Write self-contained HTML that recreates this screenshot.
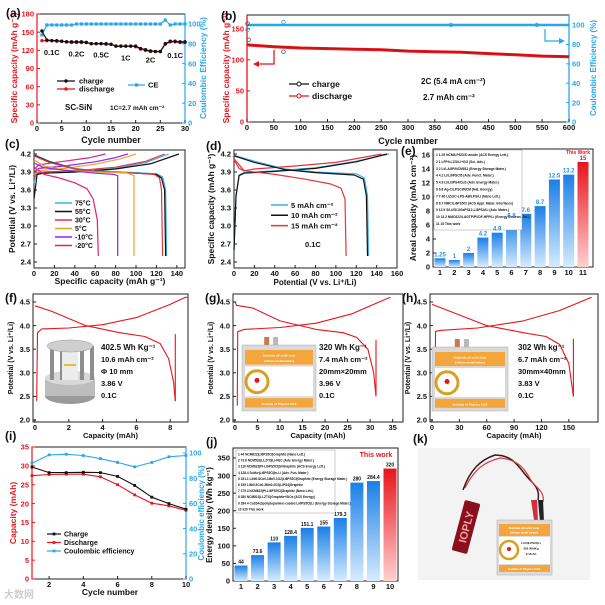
<!DOCTYPE html>
<html><head><meta charset="utf-8">
<style>
html,body{margin:0;padding:0;background:#fff;}
svg{display:block;font-family:"Liberation Sans","Noto Sans CJK SC",sans-serif;}
text{font-weight:bold;}
</style></head>
<body>
<svg id="fig" width="605" height="605" viewBox="0 0 605 605" xmlns="http://www.w3.org/2000/svg">
<defs>
<linearGradient id="gBlue" x1="0" y1="1" x2="0" y2="0"><stop offset="0" stop-color="#d6ecff"/><stop offset="1" stop-color="#1b7fe6"/></linearGradient>
<linearGradient id="gRed" x1="0" y1="1" x2="0" y2="0"><stop offset="0" stop-color="#ffd0d0"/><stop offset="1" stop-color="#e8141c"/></linearGradient>
</defs>
</svg>
<script>
// ---- panel (a) data
const aCycles=[1,2,3,4,5,6,7,8,9,10,11,12,13,14,15,16,17,18,19,20,21,22,23,24,25,26,27,28,29,30];
const aCharge=[152,137,136,136,135,134,134,134,134,133,131,131,131,131,130,127,127,127,127,127,123,121,119,118,118,131,135,135,134,134];
const aDischarge=[136,136,136,135,135,134,133,133,133,133,131,131,131,130,130,127,127,127,127,126,122,120,118,118,118,130,134,134,133,133];
const aCE=[89,99,99,99,99,99,99,100,100,100,100,100,100,100,100,100,100,100,100,100,100,100,100,100,100,104,99,100,100,100];
const aRates=["0.1C","0.2C","0.5C","1C","2C","0.1C"];
const aRateCycles=[3,8,13,18,23,28];
const aRateCaps=[112,110,108,103,100,107];
// ---- panel (b) data
const bCycles=[0,50,100,150,200,250,300,350,400,450,500,550,600];
const bDischarge=[124,121,119,118,117,116,114,113,112,110,108,106,105];
const bCharge=[124.5,121.5,119.5,118.5,117.5,116.5,114.5,113.5,112.5,110.5,108.5,106.5,105.5];
const bCE=[100,100,100,100,100,100,100,100,100,100,100,100,100];
// ---- panel (c) data [capacity, V]
const cLabels=["75°C","55°C","30°C","5°C","-10°C","-20°C"];
const cCharge=[
 [[0,3.72],[2,3.86],[10,3.88],[40,3.9],[80,3.96],[110,4.06],[132,4.2]],
 [[0,3.45],[3,3.86],[10,3.88],[40,3.9],[80,3.95],[115,4.04],[142,4.2]],
 [[0,3.8],[2,3.88],[10,3.9],[40,3.92],[80,3.98],[110,4.08],[128,4.2]],
 [[0,3.85],[5,3.92],[30,3.96],[60,4.03],[85,4.12],[100,4.2]],
 [[0,3.9],[5,3.96],[30,4.0],[60,4.07],[80,4.14],[92,4.2]],
 [[0,3.95],[5,4.02],[30,4.08],[55,4.14],[70,4.2]]];
const cDischarge=[
 [[0,4.19],[15,4.08],[40,3.96],[60,3.92],[100,3.89],[120,3.87],[126,3.82],[129,3.6],[130,2.5]],
 [[0,4.18],[15,4.07],[40,3.95],[60,3.91],[100,3.88],[120,3.86],[125,3.8],[128,3.6],[129,2.5]],
 [[0,4.17],[15,4.06],[40,3.95],[60,3.91],[100,3.88],[118,3.86],[123,3.8],[125,3.6],[126,2.5]],
 [[0,4.1],[10,4.0],[30,3.93],[60,3.9],[90,3.89],[98,3.84],[98,2.5]],
 [[0,4.05],[10,3.97],[30,3.93],[60,3.88],[78,3.86],[82,3.84],[82,2.5]],
 [[0,3.98],[10,3.86],[25,3.8],[40,3.72],[52,3.62],[58,3.45],[62,3.1],[63,2.5]]];
const cColors=["#3ab0e8","#111111","#e8333a","#f0a030","#8a2be2","#e0207a"];
// ---- panel (d) data
const dLabels=["5 mAh cm\u207B\u00B2","10 mAh cm\u207B\u00B2","15 mAh cm\u207B\u00B2"];
const dCharge=[
 [[0,2.6],[2,3.5],[5,3.85],[10,3.89],[40,3.92],[80,3.97],[120,4.08],[152,4.2]],
 [[0,2.6],[2,3.5],[5,3.84],[10,3.88],[40,3.91],[80,3.96],[120,4.07],[150,4.2]],
 [[0,4.1],[5,3.96],[10,3.92],[20,3.95],[60,4.0],[100,4.06],[145,4.2]]];
const dDischarge=[
 [[0,4.18],[20,4.08],[50,3.95],[80,3.9],[120,3.87],[128,3.8],[131,3.5],[132,2.5]],
 [[0,4.17],[20,4.06],[50,3.94],[80,3.89],[118,3.85],[127,3.78],[130,3.5],[131,2.5]],
 [[0,4.12],[10,3.92],[40,3.86],[70,3.78],[95,3.7],[105,3.63],[109,3.45],[110,2.5]]];
const dColors=["#3ab0e8","#111111","#e8333a"];
// ---- panel (e) data
const eCats=[1,2,3,4,5,6,7,8,9,10,11];
const eValues=[1.25,1,2,4.2,4.9,6.8,7.6,8.7,12.5,13.2,15];
const eLabels=["1.25","1","2","4.2","4.9","6.8","7.6","8.7","12.5","13.2","15"];
const eRefs=["1  1.25  NCM/LPSCl/D anode (ACS Energy Lett.)","2  1  LFP/LLZO/Li+GO (Sci. Adv.)","3  2  Li/LAGP/NCM811 (Energy Storage Mater.)","4  4.2  Li/Li6PSCl5 (Adv. Funct. Mater.)","5  4.9  Li/Li3PS4/CuS (Adv. Energy Mater.)","6  6.8  Ag-C/LPSCl/NCM (Nat. Energy)","7  7.46  LiZ@C-LPS-AB/LPS/Li (Nano Lett.)","8  8.7  NMC/Li6PS5Cl (ACS Appl. Mater. Interfaces)","9  12.5  S/Li2S/100xPS12-Li3PS4/Li (Adv. Mater.)","10  13.2  NMC622/LAGTP/PVDF-HFP/Li (Energy Environ. Sci.)","11  15  This work"];
// ---- panels (f)(g)(h)
const fCharge=[[0.1,2.4],[0.15,3.85],[0.4,3.93],[2,3.95],[4,4.02],[6,4.17],[8,4.45],[8.9,4.6],[9,4.6]];
const fDischarge=[[0,4.42],[1,4.3],[3,4.0],[5,3.85],[6.5,3.77],[7.4,3.62],[7.9,3.3],[8.2,2.8],[8.3,2.4]];
const fDrop=[[8.3,3.82],[8.3,2.4]];
const gCharge=[[0.5,2.3],[0.6,3.87],[2,3.92],[10,3.96],[18,4.05],[26,4.25],[32,4.5],[34.5,4.6]];
const gDischarge=[[0,4.52],[0.3,4.43],[4,4.37],[10,4.1],[18,3.92],[24,3.85],[27,3.75],[29.5,3.5],[30.8,3.0],[31.3,2.5]];
const gDrop=[[31.3,3.7],[31.3,2.5]];
const hCharge=[[3,2.45],[4,3.88],[10,3.9],[50,3.95],[100,4.1],[140,4.32],[175,4.6]];
const hDischarge=[[0,4.45],[20,4.3],[60,4.0],[100,3.85],[125,3.77],[140,3.6],[150,3.2],[155,2.5]];
const hDrop=[[155,3.72],[155,2.5]];
// ---- panel (i)
const iCycles=[1,2,3,4,5,6,7,8,9,10];
const iCharge=[29.7,28.2,28.2,28.3,28.2,27.2,24.8,21.7,20,18.5];
const iDischarge=[27.4,27.7,27.8,27.8,27.1,25,22.3,20.1,19.4,18.2];
const iCE=[92,98.5,99,98,95.5,92.5,89,92.5,97,98];
// ---- panel (j)
const jCats=[1,2,3,4,5,6,7,8,9,10];
const jValues=[44,73.6,110,128.4,151.1,155,179.3,280,284.4,320];
const jLabels=["44","73.6","110","128.4","151.1","155","179.3","280","284.4","320"];
const jRefs=["1  44  NCM622|Li6PS5Cl|Graphite (Nano Lett.)","2  73.6  NCM532|LLZTO|Li-FEC (Adv. Energy Mater.)","3  110  NCM622|PI-Li6PS5Cl|Si/Graphite (ACS Energy Lett.)","4  128.4  Sulfur|Li6PS5Cl|In-Li (Adv. Fun. Mater.)","5  151.1  LiNi0.8Co0.1Mn0.1O2|Li6PS5Cl|Graphite (Energy Storage Mater.)","6  155  LiNi0.5Co0.3Mn0.2O2|LiPS4|Graphite","7  179.3  NCM622|PI-Li6PS5Cl|Graphite (Nano Lett.)","8  280  NCM811|LLZTO|Graphite+SiOx (ACS Energy)","9  284.4  Co3S4@polydopamine-coated Li6PS5Cl|Li (Energy Storage Mater.)","10  320  This work"];

const NS="http://www.w3.org/2000/svg";
const svg=document.getElementById('fig');
function mk(tag,attrs,name,parent){const el=document.createElementNS(NS,tag);for(const k in attrs)el.setAttribute(k,attrs[k]);


(parent||svg).appendChild(el);return el;}
function txt(x,y,s,size,name,opt){opt=opt||{};const t=mk('text',{x:x,y:y,'font-size':size,fill:opt.fill||'#111','text-anchor':opt.anchor||'start'},name);
if(opt.rot)t.setAttribute('transform','rotate('+opt.rot+' '+x+' '+y+')');
if(opt.weight)t.setAttribute('font-weight',opt.weight);t.textContent=s;return t;}
function lin(d0,d1,r0,r1){return v=>r0+(v-d0)*(r1-r0)/(d1-d0);}
function frame(x0,y0,x1,y1,name){mk('rect',{x:x0,y:y0,width:x1-x0,height:y1-y0,fill:'none',stroke:'#222','stroke-width':1},name);}
function xTicks(sx,vals,yb,name,fmt,minor){vals.forEach(v=>{mk('line',{x1:sx(v),x2:sx(v),y1:yb,y2:yb-3,stroke:'#222'},name+'-tick');
txt(sx(v),yb+8,fmt?fmt(v):String(v),7.5,name+'-label',{anchor:'middle'});});}
function yTicks(sy,vals,xl,name,color,right,fmt){vals.forEach(v=>{mk('line',{x1:xl,x2:right?xl-3:xl+3,y1:sy(v),y2:sy(v),stroke:color||'#222'},name+'-tick');
txt(right?xl+3:xl-3,sy(v)+2.7,fmt?fmt(v):String(v),7.5,name+'-label',{anchor:right?'start':'end',fill:color||'#111'});});}
function path(pts,sx,sy,color,w,name){return mk('path',{d:pts.map((p,i)=>(i?'L':'M')+sx(p[0]).toFixed(1)+' '+sy(p[1]).toFixed(1)).join(''),fill:'none',stroke:color,'stroke-width':w||1.2,'stroke-linejoin':'round'},name);}
function series(xs,ys,sx,sy,color,w,name){return path(xs.map((x,i)=>[x,ys[i]]),sx,sy,color,w,name);}
function range(a,b,s){const r=[];for(let v=a;v<=b+1e-9;v+=s)r.push(Math.round(v*100)/100);return r;}
function plabel(x,y,s){txt(x,y,s,12,'panel-label-'+s.replace(/[()]/g,''));}
const RED='#e8141c',BLUE='#2aa7e8';

// ================= (a)
(function(){const sx=lin(0,30,37,185),sy=lin(0,180,123,14),sr=lin(0,100,123,24);
frame(37,14,185,123,'panel-a-frame');
mk('line',{x1:37,y1:14,x2:37,y2:123,stroke:RED,'stroke-width':1.2},'a-left-axis');
mk('line',{x1:185,y1:14,x2:185,y2:123,stroke:BLUE,'stroke-width':1.2},'a-right-axis');
xTicks(sx,range(0,30,5),123,'a-x');
yTicks(sy,range(0,180,30),37,'a-yl',RED);
yTicks(sr,range(0,100,20),185,'a-yr',BLUE,true);
series(aCycles,aCE,sx,sr,BLUE,1.2,'a-ce-line');
aCycles.forEach((c,i)=>{mk('rect',{x:sx(c)-1.6,y:sr(aCE[i])-1.6,width:3.2,height:3.2,fill:BLUE},'a-ce-point');});
series(aCycles,aDischarge,sx,sy,RED,1.2,'a-discharge-line');
series(aCycles,aCharge,sx,sy,'#111',1.2,'a-charge-line');
aCycles.forEach((c,i)=>{mk('circle',{cx:sx(c),cy:sy(aDischarge[i]),r:1.7,fill:RED},'a-discharge-point');
mk('circle',{cx:sx(c),cy:sy(aCharge[i]),r:1.7,fill:'#111'},'a-charge-point');});
aRates.forEach((r,i)=>txt(sx(aRateCycles[i]),sy(aRateCaps[i]),r,7.5,'a-rate-label',{anchor:'middle'}));
mk('line',{x1:57,y1:81,x2:75,y2:81,stroke:'#111','stroke-width':1.2},'a-legend-charge-line');mk('circle',{cx:66,cy:81,r:1.7,fill:'#111'},'a-legend-charge-marker');
txt(79,83.5,'charge',7.5,'a-legend-charge');
mk('line',{x1:57,y1:89,x2:75,y2:89,stroke:RED,'stroke-width':1.2},'a-legend-discharge-line');mk('circle',{cx:66,cy:89,r:1.7,fill:RED},'a-legend-discharge-marker');
txt(79,91.5,'discharge',7.5,'a-legend-discharge');
mk('line',{x1:128,y1:85,x2:145,y2:85,stroke:BLUE,'stroke-width':1.2},'a-legend-ce-line');mk('rect',{x:135,y:83.4,width:3.2,height:3.2,fill:BLUE},'a-legend-ce-marker');
txt(148,87.5,'CE',7.5,'a-legend-ce');
txt(65,110,'SC-SiN',8,'a-sample-label');
txt(110,110,'1C=2.7 mAh cm\u207B\u00B2',6.5,'a-rate-note');
txt(111,143,'Cycle number',9,'a-x-title',{anchor:'middle'});
txt(17,68,'Specific capacity (mAh g\u207B\u00B9)',8.5,'a-y-title',{anchor:'middle',rot:-90,fill:RED});
txt(206,68,'Coulombic Efficiency (%)',8.5,'a-y2-title',{anchor:'middle',rot:-90,fill:BLUE});
plabel(6,17,'(a)');})();

// ================= (b)
(function(){const sx=lin(0,600,247,569),sy=lin(0,172,122,15),sr=lin(0,100,122,25);
frame(247,15,569,122,'panel-b-frame');
mk('line',{x1:247,y1:15,x2:247,y2:122,stroke:RED,'stroke-width':1.3},'b-left-axis');
mk('line',{x1:569,y1:15,x2:569,y2:122,stroke:BLUE,'stroke-width':1.3},'b-right-axis');
xTicks(sx,range(0,600,50),122,'b-x');
yTicks(sy,[0,50,100,150],247,'b-yl',RED);
yTicks(sr,range(0,100,20),569,'b-yr',BLUE,true);
series(bCycles,bCE,sx,sr,BLUE,2.6,'b-ce-line');
series(bCycles,bDischarge,sx,sy,RED,3,'b-discharge-line');
series(bCycles,bCharge,sx,sy,'#c01010',1,'b-charge-line');
[[1,95],[68,103],[380,100],[540,100]].forEach(p=>mk('circle',{cx:sx(p[0]),cy:sr(p[1]),r:1.8,fill:'none',stroke:BLUE,'stroke-width':0.8},'b-ce-marker'));
[[1,158],[3,132],[68,113]].forEach(p=>mk('circle',{cx:sx(p[0]),cy:sy(p[1]),r:1.8,fill:'none',stroke:'#555','stroke-width':0.8},'b-charge-marker'));
mk('path',{d:'M274 50 V64 H258',fill:'none',stroke:RED,'stroke-width':1.3},'b-arrow-left');
mk('path',{d:'M253 64 L259 61 L259 67 Z',fill:RED},'b-arrow-left-head');
mk('path',{d:'M545 29 V41 H560',fill:'none',stroke:BLUE,'stroke-width':1.2},'b-arrow-right');
mk('path',{d:'M565 41 L559 38 L559 44 Z',fill:BLUE},'b-arrow-right-head');
mk('line',{x1:289,y1:84,x2:309,y2:84,stroke:'#111','stroke-width':1.2},'b-legend-charge-line');mk('circle',{cx:299,cy:84,r:2,fill:'#fff',stroke:'#111'},'b-legend-charge-marker');
txt(312,87,'charge',8.5,'b-legend-charge');
mk('line',{x1:289,y1:96,x2:309,y2:96,stroke:RED,'stroke-width':1.2},'b-legend-discharge-line');mk('circle',{cx:299,cy:96,r:2,fill:'#fff',stroke:RED},'b-legend-discharge-marker');
txt(312,99,'discharge',8.5,'b-legend-discharge');
txt(421,84,'2C  (5.4 mA cm\u207B\u00B2)',8,'b-rate-note');
txt(423,100,'2.7 mAh cm\u207B\u00B2',8,'b-areal-note');
txt(408,144,'Cycle number',9,'b-x-title',{anchor:'middle'});
txt(229,68,'Specific capacity (mAh g\u207B\u00B9)',8.5,'b-y-title',{anchor:'middle',rot:-90,fill:RED});
txt(596,68,'Coulombic Efficiency (%)',8,'b-y2-title',{anchor:'middle',rot:-90,fill:BLUE});
plabel(221,20,'(b)');})();

// ================= (c)
(function(){const sx=lin(0,148,34,185),sy=lin(2.4,4.2,262,154);
frame(34,150,185,268,'panel-c-frame');
xTicks(sx,range(0,140,20),268,'c-x');
yTicks(sy,range(2.4,4.2,0.3),34,'c-y',null,false,v=>v.toFixed(1));
cCharge.forEach((c,i)=>path(c,sx,sy,cColors[i],1.2,'c-charge-'+i));
cDischarge.forEach((c,i)=>path(c,sx,sy,cColors[i],1.2,'c-discharge-'+i));
cLabels.forEach((l,i)=>{const y=203+i*8.5;mk('line',{x1:55,y1:y,x2:72,y2:y,stroke:cColors[i],'stroke-width':1.5},'c-legend-line');
txt(75,y+2.5,l,7,'c-legend-label');});
txt(110,284,'Specific capacity (mAh g\u207B\u00B9)',8.5,'c-x-title',{anchor:'middle'});
txt(15,209,'Potential (V vs. Li\u207A/Li)',8.5,'c-y-title',{anchor:'middle',rot:-90});
plabel(5,148,'(c)');})();

// ================= (d)
(function(){const sx=lin(0,160,234,397),sy=lin(2.4,4.2,262,154);
frame(234,150,397,268,'panel-d-frame');
xTicks(sx,range(0,160,20),268,'d-x');
yTicks(sy,range(2.4,4.2,0.3),234,'d-y',null,false,v=>v.toFixed(1));
dCharge.forEach((c,i)=>path(c,sx,sy,dColors[i],1.2,'d-charge-'+i));
dDischarge.forEach((c,i)=>path(c,sx,sy,dColors[i],1.2,'d-discharge-'+i));
dLabels.forEach((l,i)=>{const y=205+i*10.3;mk('line',{x1:271,y1:y,x2:288,y2:y,stroke:dColors[i],'stroke-width':1.5},'d-legend-line');
txt(291,y+2.8,l,7.5,'d-legend-label');});
txt(305,247,'0.1C',7.5,'d-rate');
txt(315,285,'Potential (V vs. Li\u207A/Li)',8,'d-x-title',{anchor:'middle'});
txt(214,209,'Specific capacity (mAh g\u207B\u00B9)',8.5,'d-y-title',{anchor:'middle',rot:-90});
plabel(206,150,'(d)');})();

// ================= (e)
(function(){const sx=lin(1,11,440,583),sy=lin(0,16,267,155);
frame(433,149,593,267,'panel-e-frame');
xTicks(sx,eCats,267,'e-x');
yTicks(sy,range(0,16,2),433,'e-y');
eCats.forEach((c,i)=>{const last=i===eCats.length-1;
mk('rect',{x:sx(c)-5.5,y:sy(eValues[i]),width:11,height:267-sy(eValues[i]),fill:last?'url(#gRed)':'url(#gBlue)'},'e-bar-'+c);});
mk('rect',{x:434,y:150,width:88,height:80,fill:'#fff',stroke:'#999','stroke-width':0.5},'e-reference-box');
eRefs.forEach((r,i)=>txt(436,156+i*6.9,r,3.3,'e-reference-row',{weight:'normal'}));
eCats.forEach((c,i)=>{const last=i===eCats.length-1;
txt(sx(c),sy(eValues[i])-2,eLabels[i],6,'e-value-label',{anchor:'middle',fill:last?RED:'#2a8ee8'});});
txt(578,154,'This Work',5,'e-this-work',{anchor:'middle',fill:RED});
txt(416,208,'Areal capacity (mAh cm\u207B\u00B2)',8.5,'e-y-title',{anchor:'middle',rot:-90});
plabel(401,155,'(e)');})();

// ================= (f)(g)(h)
function vcPanel(key,x0,x1,xmax,step,ch,dis,drop,notes,nx){const sx=lin(0,xmax,x0+2,x1),sy=lin(2,4.5,420,302);
frame(x0,294,x1,422,'panel-'+key+'-frame');
xTicks(sx,range(0,xmax-0.001,step).filter(v=>sx(v)<=x1-2),422,key+'-x');
yTicks(sy,range(2,4.5,0.5),x0,key+'-y',null,false,v=>v.toFixed(1));
path(ch,sx,sy,RED,1.1,key+'-charge-curve');path(dis,sx,sy,RED,1.1,key+'-discharge-curve');path(drop,sx,sy,RED,1.1,key+'-drop-line');
notes.forEach((n,i)=>txt(nx,350+i*12,n,i===0?8:7.5,key+'-note'));
txt((x0+x1)/2,438,'Capacity (mAh)',7.5,key+'-x-title',{anchor:'middle'});
txt(x0-20,358,'Potential (V vs. Li\u207A/Li)',7,key+'-y-title',{anchor:'middle',rot:-90});}
vcPanel('f',33,188,9.05,2,fCharge,fDischarge,fDrop,['402.5 Wh Kg\u207B\u00B9','10.6 mAh cm\u207B\u00B2','\u03A6 10 mm','3.86 V','0.1C'],101);
vcPanel('g',233,403,37.3,5,gCharge,gDischarge,gDrop,['320 Wh Kg\u207B\u00B9','7.4 mAh cm\u207B\u00B2','20mm\u00D720mm','3.96 V','0.1C'],319);
vcPanel('h',430,598,182,30,hCharge,hDischarge,hDrop,['302 Wh kg\u207B\u00B9','6.7 mAh cm\u207B\u00B2','30mm\u00D740mm','3.83 V','0.1C'],518);
plabel(5,302,'(f)');plabel(205,302,'(g)');plabel(402,302,'(h)');
// (f) cell fixture photo
(function(){mk('ellipse',{cx:70,cy:396,rx:25,ry:8,fill:'#9a9a9a'},'f-fixture-base');
mk('rect',{x:45,y:378,width:50,height:18,fill:'#bdbdbd'},'f-fixture-base-body');
mk('ellipse',{cx:70,cy:378,rx:25,ry:7,fill:'#d8d8d8'},'f-fixture-base-top');
['50','60','80','90'].forEach(x=>mk('rect',{x:x,y:346,width:4,height:34,fill:'#8e8e8e'},'f-fixture-rod'));
mk('rect',{x:62,y:350,width:16,height:30,fill:'#ececec'},'f-fixture-cell');
mk('rect',{x:64,y:364,width:12,height:2,fill:'#e0c040'},'f-fixture-sample');
mk('ellipse',{cx:70,cy:346,rx:23,ry:6,fill:'#cfcfcf',stroke:'#999','stroke-width':0.5},'f-fixture-top');})();
// pouch cells
function pouch(key,x,y,w,h){mk('rect',{x:x+w*0.3,y:y-8,width:5,height:9,fill:'#c87850'},key+'-tab-a');
mk('rect',{x:x+w*0.42,y:y-8,width:5,height:9,fill:'#b9b9b9'},key+'-tab-b');
mk('rect',{x:x,y:y,width:w,height:h,fill:'#d9d9d9',stroke:'#aaa','stroke-width':0.5},key+'-pouch');
mk('rect',{x:x+3,y:y+5,width:w-6,height:h*0.22,fill:'#f4a63c'},key+'-pouch-band-top');
txt(x+w/2,y+5+h*0.1,'Sulphide all-solid state',3,key+'-pouch-title',{anchor:'middle',fill:'#fff'});
txt(x+w/2,y+5+h*0.18,'Lithium metal battery',3,key+'-pouch-subtitle',{anchor:'middle',fill:'#fff'});
mk('rect',{x:x+3,y:y+7+h*0.22,width:w-6,height:h*0.45,fill:'#fff'},key+'-pouch-label');
mk('circle',{cx:x+15,cy:y+7+h*0.45,r:11,fill:'#fff',stroke:'#d8a020','stroke-width':3},key+'-pouch-seal');
mk('circle',{cx:x+15,cy:y+7+h*0.43,r:2.5,fill:RED},key+'-pouch-logo');
mk('rect',{x:x+3,y:y+9+h*0.67,width:w-6,height:h*0.14,fill:'#f4a63c'},key+'-pouch-band-bottom');
txt(x+w/2,y+9+h*0.77,'Institute of Physics CAS',3,key+'-pouch-footer',{anchor:'middle',fill:'#fff'});}
pouch('g',242,345,74,66);pouch('h',432,347,76,64);

// ================= (i)
(function(){const sx=lin(1,10,32,186),sy=lin(0,35,579,447),sr=lin(0,100,579,453);
frame(32,447,186,579,'panel-i-frame');
mk('line',{x1:32,y1:447,x2:32,y2:579,stroke:RED,'stroke-width':1.2},'i-left-axis');
mk('line',{x1:186,y1:447,x2:186,y2:579,stroke:BLUE,'stroke-width':1.2},'i-right-axis');
xTicks(sx,[2,4,6,8,10],579,'i-x');
yTicks(sy,range(0,35,5),32,'i-yl',RED);
yTicks(sr,range(0,100,20),186,'i-yr',BLUE,true);
series(iCycles,iCE,sx,sr,BLUE,1.1,'i-ce-line');series(iCycles,iDischarge,sx,sy,RED,1.1,'i-discharge-line');series(iCycles,iCharge,sx,sy,'#111',1.1,'i-charge-line');
iCycles.forEach((c,i)=>{mk('rect',{x:sx(c)-1.4,y:sr(iCE[i])-1.4,width:2.8,height:2.8,fill:BLUE},'i-ce-point');
mk('rect',{x:sx(c)-1.4,y:sy(iDischarge[i])-1.4,width:2.8,height:2.8,fill:RED},'i-discharge-point');
mk('rect',{x:sx(c)-1.4,y:sy(iCharge[i])-1.4,width:2.8,height:2.8,fill:'#111'},'i-charge-point');});
[['Charge','#111'],['Discharge',RED],['Coulombic efficiency',BLUE]].forEach((l,i)=>{const y=534+i*8.5;
mk('line',{x1:47,y1:y,x2:61,y2:y,stroke:l[1],'stroke-width':1.2},'i-legend-line');
mk('rect',{x:52.6,y:y-1.4,width:2.8,height:2.8,fill:l[1]},'i-legend-marker');
txt(64,y+2.6,l[0],7,'i-legend-label',{weight:'normal'});});
txt(110,595,'Cycle number',8.5,'i-x-title',{anchor:'middle'});
txt(16,513,'Capacity (mAh)',8.5,'i-y-title',{anchor:'middle',rot:-90,fill:RED});
txt(204,513,'Coulombic efficiency (%)',8,'i-y2-title',{anchor:'middle',rot:-90,fill:BLUE});
txt(4,598,'\u5927\u6570\u7F51',10,'watermark',{fill:'#cfcfcf',weight:'normal'});
plabel(5,440,'(i)');})();

// ================= (j)
(function(){const sx=lin(1,10,241,390),sy=lin(0,350,581,458);
frame(233,448,398,581,'panel-j-frame');
xTicks(sx,jCats,581,'j-x');
yTicks(sy,range(0,350,50),233,'j-y');
jCats.forEach((c,i)=>{const last=i===jCats.length-1;
mk('rect',{x:sx(c)-6.5,y:sy(jValues[i]),width:13,height:581-sy(jValues[i]),fill:last?'url(#gRed)':'url(#gBlue)'},'j-bar-'+c);
txt(sx(c),sy(jValues[i])-2,jLabels[i],5,'j-value-label',{anchor:'middle'});});
mk('rect',{x:236,y:450,width:99,height:63,fill:'#fff',stroke:'#999','stroke-width':0.5},'j-reference-box');
jRefs.forEach((r,i)=>txt(238,455.5+i*6.1,r,3.2,'j-reference-row',{weight:'normal'}));
txt(376,457,'This work',7,'j-this-work',{anchor:'middle',fill:RED,weight:'normal'});
txt(212,515,'Energy density (Wh kg\u207B\u00B9)',8,'j-y-title',{anchor:'middle',rot:-90});
plabel(206,446,'(j)');})();

// ================= (k) photo
(function(){mk('rect',{x:418,y:448,width:172,height:132,fill:'#f3f3f3'},'k-photo-bg');
mk('path',{d:'M463 490 C470 470 480 460 495 455 C515 455 520 470 530 480 C535 485 540 490 538 500',fill:'none',stroke:'#3a1a1a','stroke-width':1.5},'k-wire-black');
mk('path',{d:'M465 488 C475 468 485 462 500 458 C520 460 525 470 532 482 C537 488 545 492 543 502',fill:'none',stroke:'#d04050','stroke-width':1.2},'k-wire-red');
mk('path',{d:'M531 500 L534 520 L538 520 L537 500 Z',fill:'#d03040'},'k-clip-red');
mk('path',{d:'M538 500 L540 522 L544 522 L543 500 Z',fill:'#222'},'k-clip-black');
const g=mk('g',{transform:'rotate(-75 466 527)'},'k-led-display');
mk('rect',{x:440,y:519,width:52,height:16,rx:2,fill:'#8a1020'},'k-led-body',g);
const t=txt(466,531,'IOPLY',11,'k-led-text',{anchor:'middle',fill:'#f4a0a0'});g.appendChild(t);
mk('rect',{x:497,y:520,width:55,height:55,fill:'#dcdcdc',stroke:'#aaa','stroke-width':0.5},'k-pouch');
mk('rect',{x:499,y:524,width:51,height:12,fill:'#f4a63c'},'k-pouch-band-top');
txt(524,529,'Sulphide all-solid state',2.8,'k-pouch-title',{anchor:'middle',fill:'#fff'});
txt(524,533.5,'Lithium metal battery',2.8,'k-pouch-subtitle',{anchor:'middle',fill:'#fff'});
mk('rect',{x:499,y:537,width:51,height:27,fill:'#fff'},'k-pouch-label');
mk('circle',{cx:509,cy:550,r:9,fill:'#fff',stroke:'#d8a020','stroke-width':2.5},'k-pouch-seal');
mk('circle',{cx:509,cy:549,r:2,fill:RED},'k-pouch-logo');
['LCO|LPSCl|Li','302 Wh/Kg','0.16 Ah'].forEach((s,i)=>txt(531,544+i*5.5,s,3,'k-pouch-spec',{anchor:'middle'}));
mk('rect',{x:499,y:565,width:51,height:7,fill:'#f4a63c'},'k-pouch-band-bottom');
txt(524,570,'Institute of Physics CAS',2.8,'k-pouch-footer',{anchor:'middle',fill:'#fff'});
plabel(413,443,'(k)');})();
</script>
</body></html>
